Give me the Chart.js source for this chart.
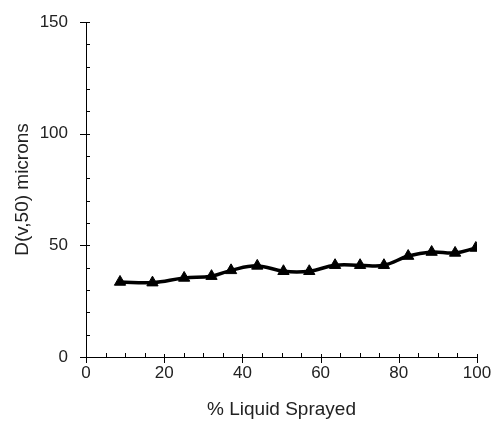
<!DOCTYPE html>
<html>
<head>
<meta charset="utf-8">
<script src="https://cdn.jsdelivr.net/npm/chart.js@4/dist/chart.umd.min.js"></script>
<style>
  html, body { margin: 0; padding: 0; background: #fff; }
  canvas { display: block; }
</style>
</head>
<body>
<canvas id="chart" width="492" height="421"></canvas>
<script>
// % liquid sprayed vs D(v,50)
const sprayed = [8.7, 17.0, 25.1, 32.1, 37.1, 43.8, 50.5, 57.1, 63.7, 70.1, 76.2, 82.4, 88.4, 94.4, 99.7];
const dv50 = [33.6, 33.3, 35.4, 36.2, 38.8, 40.8, 38.4, 38.4, 41.1, 41.1, 41.1, 45.2, 47.0, 46.6, 48.8];

const xMajor = 20, xMinor = 5;
const yMajor = 50, yMinor = 10;

// excel-style tick marks: major ones cross the axis, minor ones sit inside
const tickMarks = {
  id: 'tickMarks',
  beforeDatasetsDraw: function(chart) {
    const ctx = chart.ctx;
    const area = chart.chartArea;
    const x = chart.scales.x, y = chart.scales.y;
    ctx.save();
    ctx.strokeStyle = '#000';
    ctx.lineWidth = 1;
    ctx.beginPath();
    x.ticks.forEach(function(t) {
      const px = Math.round(x.getPixelForValue(t.value)) + 0.5;
      if (t.value % xMajor === 0) {
        ctx.moveTo(px, area.bottom - 3);
        ctx.lineTo(px, area.bottom + 6);
      } else {
        ctx.moveTo(px, area.bottom - 4);
        ctx.lineTo(px, area.bottom);
      }
    });
    y.ticks.forEach(function(t) {
      const py = Math.round(y.getPixelForValue(t.value)) + 0.5;
      if (t.value % yMajor === 0) {
        ctx.moveTo(area.left - 6, py);
        ctx.lineTo(area.left + 4, py);
      } else {
        ctx.moveTo(area.left, py);
        ctx.lineTo(area.left + 4, py);
      }
    });
    ctx.stroke();
    ctx.restore();
  }
};

const tickFont = { family: 'Arial, "Liberation Sans", sans-serif', size: 17 };
const titleFont = { family: 'Arial, "Liberation Sans", sans-serif', size: 19 };

new Chart(document.getElementById('chart'), {
  type: 'line',
  data: {
    datasets: [{
      data: sprayed.map(function(v, i) { return { x: v, y: dv50[i] }; }),
      borderColor: '#000',
      backgroundColor: '#000',
      borderWidth: 3.5,
      tension: 0.4,
      pointStyle: 'triangle',
      pointRadius: 6.5,
      pointBorderWidth: 1,
      pointBackgroundColor: '#000',
      pointBorderColor: '#000'
    }]
  },
  options: {
    responsive: false,
    animation: false,
    devicePixelRatio: 1,
    layout: { padding: { top: 22, right: 15, left: 2, bottom: 0 } },
    plugins: {
      legend: { display: false },
      tooltip: { enabled: false }
    },
    scales: {
      x: {
        type: 'linear',
        min: 0,
        max: 100,
        afterFit: function(scale) {
          scale.height = 64;
          scale.paddingLeft = 0;
          scale.paddingRight = 0;
        },
        grid: { display: false, drawTicks: false },
        border: { display: true, color: '#000', width: 1 },
        ticks: {
          stepSize: xMinor,
          autoSkip: false,
          maxRotation: 0,
          padding: 6,
          color: '#222',
          font: tickFont,
          callback: function(v) { return v % xMajor === 0 ? v : ''; }
        },
        title: {
          display: true,
          text: '% Liquid Sprayed',
          color: '#222',
          font: titleFont,
          padding: { top: 10, bottom: 0 }
        }
      },
      y: {
        min: 0,
        max: 150,
        afterFit: function(scale) {
          scale.width = 84;
          scale.paddingTop = 0;
          scale.paddingBottom = 0;
        },
        grid: { display: false, drawTicks: false },
        border: { display: true, color: '#000', width: 1 },
        ticks: {
          stepSize: yMinor,
          autoSkip: false,
          padding: 18,
          color: '#222',
          font: tickFont,
          callback: function(v) { return v % yMajor === 0 ? v : ''; }
        },
        title: {
          display: true,
          text: 'D(v,50) microns',
          color: '#222',
          font: titleFont,
          padding: { top: 9, bottom: 8 }
        }
      }
    }
  },
  plugins: [tickMarks]
});
</script>
</body>
</html>
